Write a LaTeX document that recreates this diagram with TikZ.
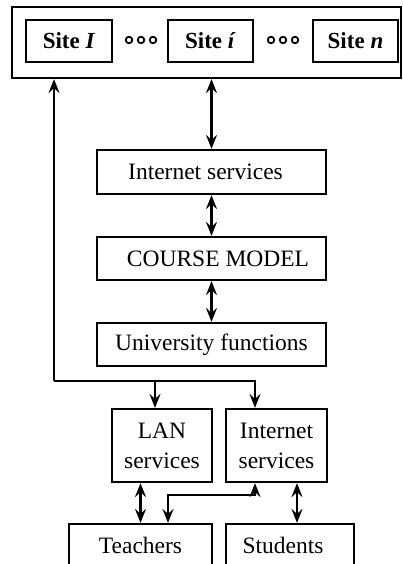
\documentclass[tikz,border=0pt]{standalone}
\usepackage{fontspec}
\setmainfont{Liberation Serif}
\usetikzlibrary{arrows.meta}
\begin{document}
\begin{tikzpicture}[x=1pt,y=-1pt,
  line width=2.2pt,
  >={Stealth[length=14pt,width=11pt,inset=5pt]},
  box/.style={draw,rectangle,inner sep=0pt,align=center,
    font=\fontsize{23.5}{30}\selectfont},
  sitebox/.style={box,minimum width=85pt,minimum height=42pt,
    font=\fontsize{23}{28}\selectfont\bfseries},
  dot/.style={draw,circle,line width=1.8pt,inner sep=0pt,minimum size=6.5pt}]
  \useasboundingbox (0,0) rectangle (403,564);

  % site container and its sites
  \node[draw,rectangle,inner sep=0pt,minimum width=389pt,minimum height=71pt] (sites) at (206.5,42.5) {};
  \node[sitebox,minimum width=86pt] (s1) at (69,41) {Site \textit{I}};
  \node[sitebox] (si) at (210.5,41) {Site \textit{í}};
  \node[sitebox] (sn) at (355.5,41) {Site \textit{n}};
  \node[dot] (a1) at (129,40) {};
  \node[dot] (a2) at (141,40) {};
  \node[dot] (a3) at (153,40) {};
  \node[dot] (b1) at (271,40) {};
  \node[dot] (b2) at (283,40) {};
  \node[dot] (b3) at (295,40) {};

  % central stack
  \node[box,minimum width=229pt,minimum height=44pt] (inet) at (211.5,172) {Internet services\hspace{12pt}};
  \node[box,minimum width=229pt,minimum height=43pt] (course) at (211.5,258.5) {\hspace{13pt}COURSE MODEL};
  \node[box,minimum width=229pt,minimum height=43pt] (univ) at (211.5,344.5) {University functions};

  % service boxes
  \node[box,minimum width=100pt,minimum height=73pt] (lan) at (162,445.5) {LAN\\services};
  \node[box,minimum width=101pt,minimum height=73pt] (inet2) at (276.5,445.5) {Internet\\services};

  % users
  \node[box,minimum width=143pt,minimum height=43pt] (teach) at (140.5,545.5) {Teachers};
  \node[box,minimum width=128pt,minimum height=43pt] (stud) at (290,545.5) {Students\hspace{14pt}};

  % junction points
  \coordinate (j1) at (54,381);
  \coordinate (j2) at (255,381);
  \coordinate (j3) at (155,381);
  \coordinate (k) at (168,495);
  \coordinate (m) at (297,0);

  % connectors
  \draw[<->] (inet.north |- sites.south) -- (inet.north);
  \draw[<->] (inet.south) -- (course.north);
  \draw[<->] (course.south) -- (univ.north);
  \draw[->] (j1) -- (j1 |- sites.south);
  \draw[->] (j1) -- (j2) -- (j2 |- inet2.north);
  \draw[->] (j3) -- (j3 |- lan.north);
  \draw[<->] (lan.south -| teach.north) -- (teach.north);
  \draw[<->] (j2 |- inet2.south) |- (k) -- (k |- teach.north);
  \draw[<->] (inet2.south -| m) -- (stud.north -| m);
\end{tikzpicture}
\end{document}
